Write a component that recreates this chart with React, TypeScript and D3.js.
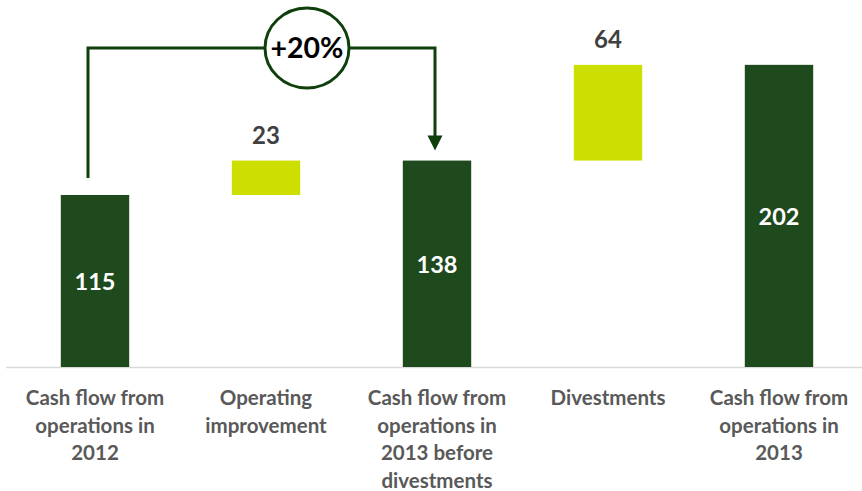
import React from "react";
import * as d3 from "d3";

const categories = [
  ["Cash flow from", "operations in", "2012"],
  ["Operating", "improvement"],
  ["Cash flow from", "operations in", "2013 before", "divestments"],
  ["Divestments"],
  ["Cash flow from", "operations in", "2013"],
];
const values = [115, 23, 138, 64, 202];
const kinds = ["total", "delta", "total", "delta", "total"];
const changeLabel = "+20%";

const W = 862;
const H = 491;
const DARK = "#1f4a1e";
const LIGHT = "#cddf00";
const LINE = "#0f3f0b";

export default function App() {
  const keys = categories.map((_, i) => String(i));
  const x = d3.scaleBand().domain(keys).range([9.5, 864.5]).paddingInner(0.6).paddingOuter(0.3);
  const y = d3.scaleLinear().domain([0, 240]).range([367, 8]);

  let running = 0;
  const bars = values.map((v, i) => {
    let lo: number, hi: number;
    if (kinds[i] === "total") {
      lo = 0;
      hi = v;
      running = v;
    } else {
      lo = running;
      hi = running + v;
      running = hi;
    }
    return { i, v, lo, hi, kind: kinds[i] };
  });

  const bw = x.bandwidth();
  const ax0 = (x("0") as number) + bw / 2 - 7;
  const ax1 = (x("2") as number) + bw / 2 - 2;
  const topY = 48;
  const startY = y(bars[0].hi) - 17;
  const arrowTip = y(bars[2].hi) - 10;
  const cx = ((x("1") as number) + bw / 2 + 41);

  return (
    <svg width={W} height={H} style={{ position: "absolute", left: 0, top: 0 }} fontFamily="Lato, 'Open Sans', sans-serif">
      <line x1={6} x2={862} y1={y(0) + 0.5} y2={y(0) + 0.5} stroke="#d9d9d9" strokeWidth={1.5} />
      {bars.map((b) => {
        const bx = x(String(b.i)) as number;
        const yTop = y(b.hi);
        const yBot = y(b.lo);
        return (
          <g key={b.i}>
            <rect x={bx} y={yTop} width={bw} height={yBot - yTop} fill={b.kind === "total" ? DARK : LIGHT} />
            {b.kind === "total" ? (
              <text x={bx + bw / 2} y={(yTop + yBot) / 2 + 9} textAnchor="middle" fill="#fff" fontWeight={700} fontSize={23.5}>
                {b.v}
              </text>
            ) : (
              <text x={bx + bw / 2} y={yTop - 17} textAnchor="middle" fill="#404040" fontWeight={700} fontSize={24}>
                {b.v}
              </text>
            )}
          </g>
        );
      })}
      {categories.map((lines, i) => (
        <text key={i} x={(x(String(i)) as number) + bw / 2} y={405} textAnchor="middle" fill="#595959" fontWeight={700} fontSize={20.5}>
          {lines.map((l, j) => (
            <tspan key={j} x={(x(String(i)) as number) + bw / 2} dy={j === 0 ? 0 : 27.5}>
              {l}
            </tspan>
          ))}
        </text>
      ))}
      <path
        d={`M${ax0},${startY} V${topY} H${ax1} V${arrowTip - 14}`}
        fill="none"
        stroke={LINE}
        strokeWidth={3}
      />
      <path d={`M${ax1 - 7.5},${arrowTip - 15} L${ax1 + 7.5},${arrowTip - 15} L${ax1},${arrowTip} Z`} fill={LINE} />
      <ellipse cx={cx} cy={topY} rx={42} ry={40} fill="#fff" stroke={LINE} strokeWidth={3} />
      <text x={cx} y={topY + 10} textAnchor="middle" fill="#000" fontWeight={700} fontSize={28.5}>
        {changeLabel}
      </text>
    </svg>
  );
}
